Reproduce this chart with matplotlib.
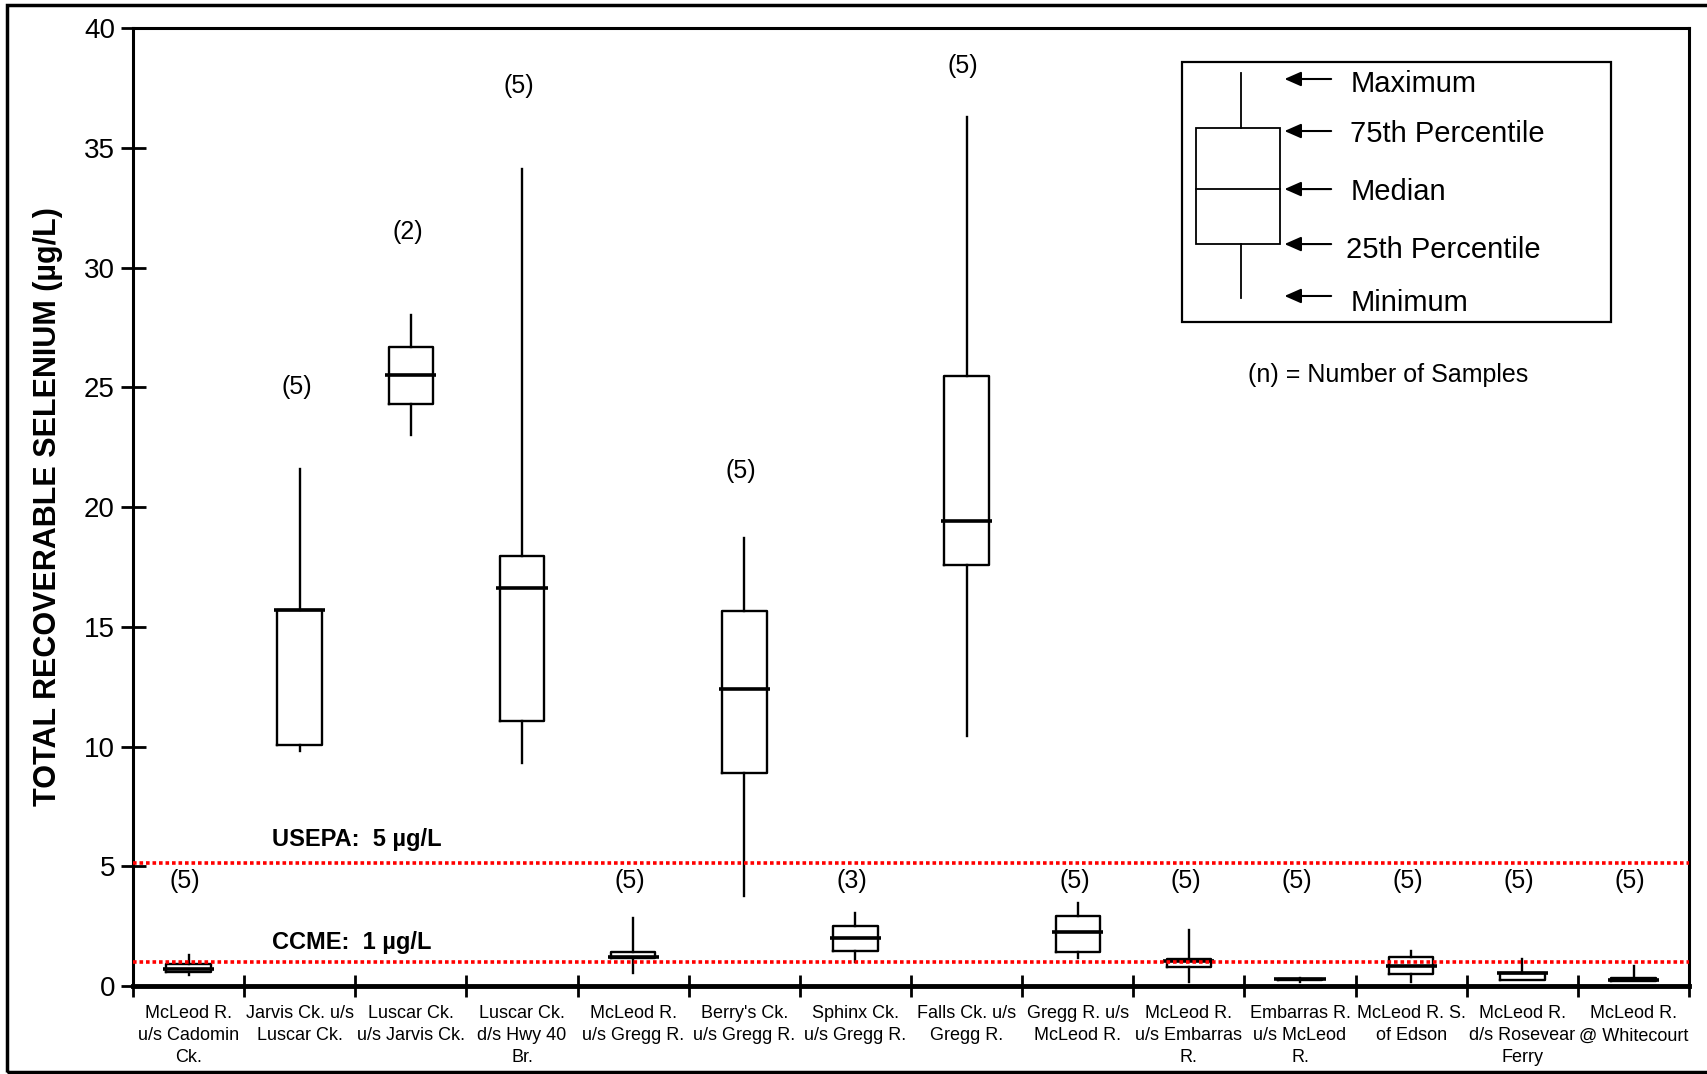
import matplotlib
matplotlib.use("Agg")
import matplotlib.pyplot as plt
from matplotlib.patches import Rectangle
from matplotlib.lines import Line2D

plt.rcParams["font.family"] = ["Liberation Sans", "DejaVu Sans"]

# fmt: off
sites = [
    "McLeod R.\nu/s Cadomin\nCk.", "Jarvis Ck. u/s\nLuscar Ck.", "Luscar Ck.\nu/s Jarvis Ck.",
    "Luscar Ck.\nd/s Hwy 40\nBr.", "McLeod R.\nu/s Gregg R.", "Berry's Ck.\nu/s Gregg R.",
    "Sphinx Ck.\nu/s Gregg R.", "Falls Ck. u/s\nGregg R.", "Gregg R. u/s\nMcLeod R.",
    "McLeod R.\nu/s Embarras\nR.", "Embarras R.\nu/s McLeod\nR.", "McLeod R. S.\nof Edson",
    "McLeod R.\nd/s Rosevear\nFerry", "McLeod R.\n@ Whitecourt",
]
n_samples = [5, 5, 2, 5, 5, 5, 3, 5, 5, 5, 5, 5, 5, 5]

se_max = [1.30, 21.6, 28.0, 34.1, 2.86, 18.7, 3.05, 36.3, 3.45, 2.33, 0.33, 1.45, 1.13, 0.85]
se_q3  = [0.90, 15.7, 26.7, 17.95, 1.41, 15.65, 2.50, 25.47, 2.93, 1.12, 0.31, 1.22, 0.56, 0.32]
se_med = [0.73, 15.72, 25.5, 16.6, 1.21, 12.4, 2.00, 19.4, 2.25, 1.06, 0.29, 0.84, 0.54, 0.26]
se_q1  = [0.58, 10.05, 24.3, 11.05, 1.18, 8.90, 1.48, 17.6, 1.42, 0.80, 0.26, 0.50, 0.25, 0.22]
se_min = [0.46, 9.80, 23.0, 9.30, 0.55, 3.75, 1.00, 10.43, 1.17, 0.17, 0.18, 0.18, 0.24, 0.21]

# height at which each "(n)" label sits
n_label_y = [4.4, 25.0, 31.5, 37.6, 4.4, 21.5, 4.4, 38.4, 4.4, 4.4, 4.4, 4.4, 4.4, 4.4]

guidelines = [("USEPA:  5 µg/L", 5.15, 6.1), ("CCME:  1 µg/L", 1.0, 1.8)]
# fmt: on

fig = plt.figure(figsize=(17.07, 10.74), dpi=100)
ax = fig.add_axes([0.0779, 0.0819, 0.9116, 0.892])

pos = list(range(len(sites)))
stats = []
for i in pos:
    stats.append(dict(med=se_med[i], q1=se_q1[i], q3=se_q3[i],
                      whislo=se_min[i], whishi=se_max[i], label=""))

ax.bxp(stats, positions=pos, widths=0.4, showfliers=False, showcaps=False,
       boxprops=dict(color="black", linewidth=1.7),
       whiskerprops=dict(color="black", linewidth=1.7),
       medianprops=dict(linewidth=0))
ax.hlines(se_med, [p - 0.23 for p in pos], [p + 0.23 for p in pos],
          color="black", linewidth=2.6, zorder=3)

for i in pos:
    ax.text(i - 0.03, n_label_y[i], f"({n_samples[i]})", ha="center", va="center", fontsize=18)

# guideline lines
for label, yv, ty in guidelines:
    ax.axhline(yv, color="red", linestyle=(0, (1, 0.8)), linewidth=2.6, zorder=4)
    ax.text(0.75, ty, label, fontsize=17, fontweight="bold", ha="left", va="center")

ax.set_xlim(-0.5, len(sites) - 0.5)
ax.set_ylim(0, 40)
ax.set_yticks(range(0, 41, 5))
ax.tick_params(axis="y", direction="inout", length=18, width=2, labelsize=20, pad=4)
ax.set_xticks([p + 0.5 for p in range(-1, len(sites))])
ax.set_xticklabels([])
ax.set_xticks(pos, minor=True)
ax.set_xticklabels(sites, minor=True, fontsize=13, linespacing=1.38)
ax.tick_params(axis="x", which="major", direction="inout", length=16, width=2)
ax.tick_params(axis="x", which="minor", length=0, pad=14)
for side in ["left", "top", "right"]:
    ax.spines[side].set_linewidth(2.2)
ax.spines["bottom"].set_linewidth(3.5)

ax.set_ylabel("TOTAL RECOVERABLE SELENIUM (µg/L)", fontsize=22, fontweight="bold")
ax.yaxis.set_label_coords(-0.045, 0.5)

# key box
tr = ax.transAxes
ax.add_patch(Rectangle((0.6742, 0.6931), 0.2757, 0.2714, transform=tr,
                       fill=False, edgecolor="black", linewidth=1.6))
ax.add_patch(Rectangle((0.6832, 0.7745), 0.0539, 0.1211, transform=tr,
                       fill=False, edgecolor="black", linewidth=1.3))
ax.add_line(Line2D([0.6832, 0.7371], [0.8319, 0.8319], transform=tr, color="black", lw=1.3))
ax.add_line(Line2D([0.7121, 0.7121], [0.8956, 0.9530], transform=tr, color="black", lw=1.3))
ax.add_line(Line2D([0.7121, 0.7121], [0.7182, 0.7745], transform=tr, color="black", lw=1.3))

key_names = ["Maximum", "75th Percentile", "Median", "25th Percentile", "Minimum"]
arrow_y = [0.9468, 0.8925, 0.8319, 0.7745, 0.7203]
text_y = [0.9415, 0.8894, 0.8288, 0.7683, 0.7129]
text_x = [0.7828, 0.7822, 0.7828, 0.7796, 0.7828]
for name, ay, tx, ty in zip(key_names, arrow_y, text_x, text_y):
    ax.annotate("", xy=(0.7400, ay), xytext=(0.7700, ay), xycoords=tr, textcoords=tr,
                arrowprops=dict(arrowstyle="-|>,head_length=0.5,head_width=0.22",
                                color="black", lw=1.5, mutation_scale=20,
                                shrinkA=0, shrinkB=0))
    ax.text(tx, ty, name, transform=tr, fontsize=21, ha="left", va="center")

ax.text(0.8066, 0.6378, "(n) = Number of Samples", transform=tr, fontsize=18,
        ha="center", va="center")

# outer frame
fig.patches.append(Rectangle((0.0041, 0.0019), 1.05, 0.9934, transform=fig.transFigure,
                             fill=False, edgecolor="black", linewidth=2.5))

fig.savefig("out.png", dpi=100)
